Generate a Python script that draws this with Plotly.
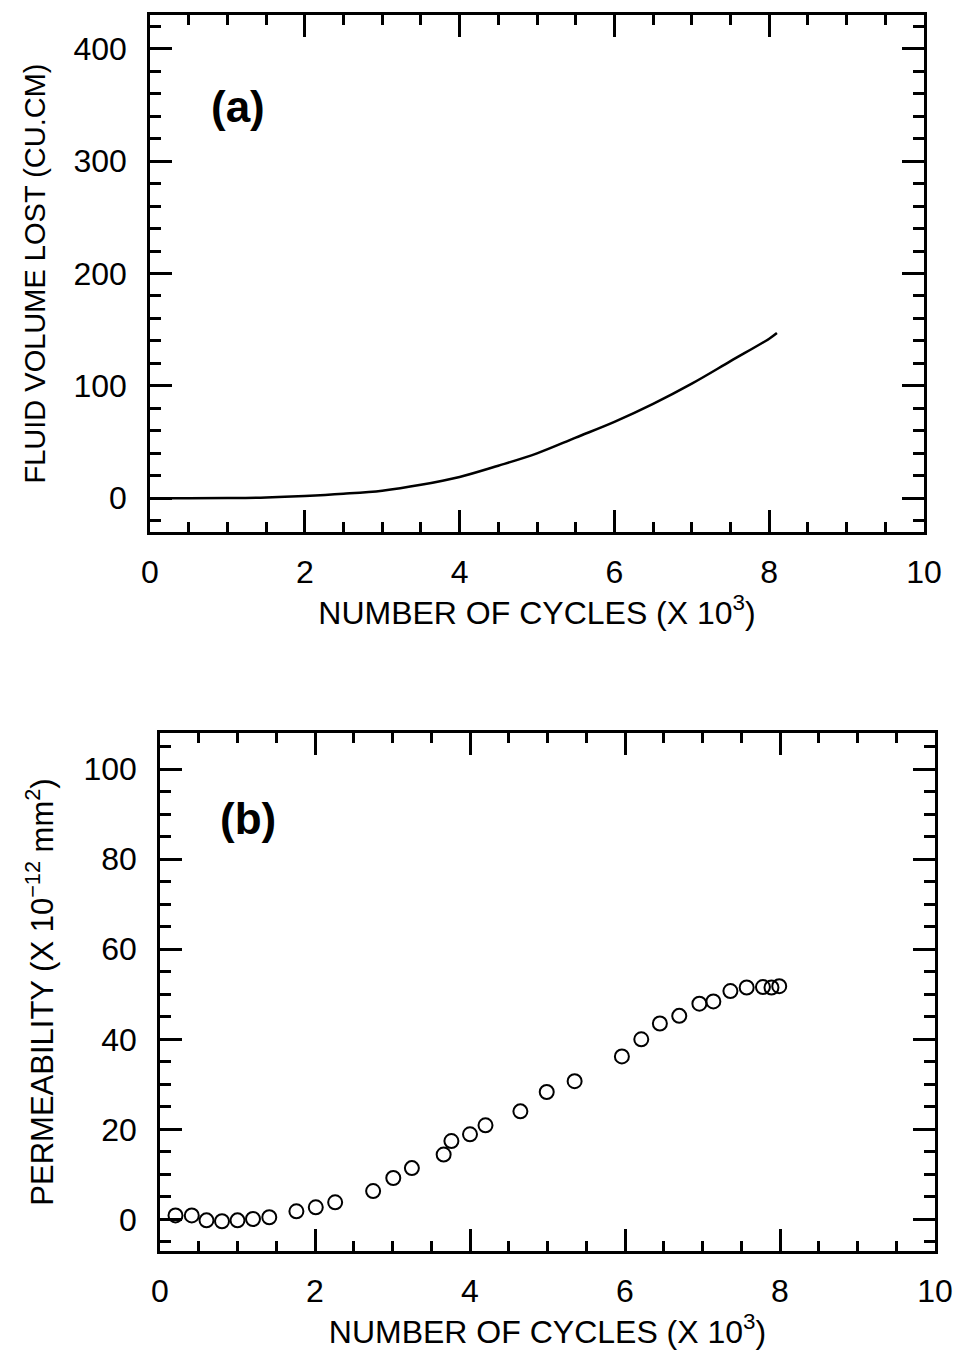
import plotly.graph_objects as go

# Panel (a): cumulative fluid volume lost vs cycles (x 10^3)
cycles_a = [0.0, 0.5, 1.0, 1.5, 2.0, 2.5, 3.0, 3.5, 4.0, 4.5, 5.0, 5.5, 6.0, 6.5, 7.0, 7.5, 8.0, 8.1]
volume_lost = [0.0, 0.0, 0.2, 0.7, 2.0, 4.0, 6.8, 12.0, 19.0, 29.0, 40.0, 54.0, 68.0, 84.0, 102.0, 122.0, 142.0, 147.0]

# Panel (b): measured permeability vs cycles (x 10^3)
cycles_b = [0.20, 0.41, 0.60, 0.80, 1.00, 1.20, 1.41, 1.76, 2.01, 2.26, 2.75, 3.01, 3.25,
            3.66, 3.76, 4.00, 4.20, 4.65, 4.99, 5.35, 5.96, 6.21, 6.45, 6.70, 6.96, 7.14,
            7.36, 7.57, 7.78, 7.89, 7.99]
permeability = [0.9, 0.9, -0.2, -0.4, -0.2, 0.1, 0.5, 1.8, 2.7, 3.8, 6.3, 9.2, 11.4,
                14.4, 17.4, 18.9, 20.9, 24.0, 28.3, 30.7, 36.2, 40.0, 43.5, 45.2, 47.9, 48.4,
                50.7, 51.5, 51.6, 51.5, 51.8]

FONT = "Liberation Sans, Arial, sans-serif"
TICK_FONT = dict(family=FONT, size=32, color="black")
TITLE_FONT = dict(family=FONT, size=32, color="black")

fig = go.Figure()

fig.add_trace(go.Scatter(
    x=cycles_a, y=volume_lost, mode="lines", line=dict(color="black", width=2.5, shape="spline"),
    xaxis="x", yaxis="y", showlegend=False, hoverinfo="skip"))

fig.add_trace(go.Scatter(
    x=cycles_b, y=permeability, mode="markers",
    marker=dict(symbol="circle-open", size=14, color="black", line=dict(width=2)),
    xaxis="x2", yaxis="y2", showlegend=False, hoverinfo="skip"))


def xaxis_cfg(domain, anchor):
    return dict(
        domain=domain, anchor=anchor, range=[0, 10], tickvals=[0, 2, 4, 6, 8, 10],
        ticks="inside", ticklen=22, tickwidth=2.5, tickcolor="black",
        minor=dict(dtick=0.5, tick0=0, ticks="inside", ticklen=10, tickwidth=2.5, tickcolor="black"),
        showline=True, linecolor="black", linewidth=2.5, mirror="allticks",
        showgrid=False, zeroline=False, tickfont=TICK_FONT, ticklabelstandoff=10,
        automargin=False,
        title=dict(text="NUMBER OF CYCLES (X 10<sup>3</sup>)", font=TITLE_FONT, standoff=10),
    )


def yaxis_cfg(domain, anchor, rng, tickvals, minor_step, title, title_size, standoff):
    return dict(
        domain=domain, anchor=anchor, range=rng, tickvals=tickvals,
        ticks="inside", ticklen=22, tickwidth=2.5, tickcolor="black",
        minor=dict(dtick=minor_step, tick0=0, ticks="inside", ticklen=11, tickwidth=2.5, tickcolor="black"),
        showline=True, linecolor="black", linewidth=2.5, mirror="allticks",
        showgrid=False, zeroline=False, tickfont=TICK_FONT, ticklabelstandoff=14,
        automargin=False,
        title=dict(text=title, font=dict(family=FONT, size=title_size, color="black"), standoff=standoff),
    )


W, H = 960, 1353
fig.update_layout(
    template="none",
    width=W, height=H, margin=dict(l=0, r=0, t=0, b=0),
    paper_bgcolor="white", plot_bgcolor="white",
    xaxis=xaxis_cfg([150 / W, 924 / W], "y"),
    yaxis=yaxis_cfg([1 - 532 / H, 1 - 15 / H], "x", [-30, 430], [0, 100, 200, 300, 400], 20,
                    "FLUID VOLUME LOST (CU.CM)", 29, 20),
    xaxis2=xaxis_cfg([160 / W, 935 / W], "y2"),
    yaxis2=yaxis_cfg([1 - 1251 / H, 1 - 733 / H], "x2", [-7, 108], [0, 20, 40, 60, 80, 100], 5,
                     "PERMEABILITY (X 10<sup>\u221212</sup> mm<sup>2</sup>)", 31, 21),
    annotations=[
        dict(text="<b>(a)</b>", x=1.14, y=349, xref="x", yref="y", showarrow=False,
             font=dict(family=FONT, size=44, color="black")),
        dict(text="<b>(b)</b>", x=1.14, y=89, xref="x2", yref="y2", showarrow=False,
             font=dict(family=FONT, size=44, color="black")),
    ],
)

fig.write_html("out.html")
